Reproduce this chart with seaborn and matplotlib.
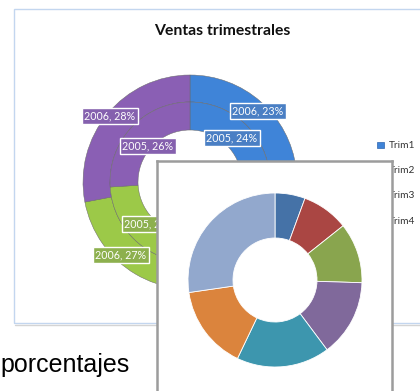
import numpy as np
import matplotlib
matplotlib.use("Agg")
import matplotlib.pyplot as plt
from matplotlib.patches import Rectangle
import seaborn as sns

# ---- data -------------------------------------------------------------
trimestres = ["Trim1", "Trim2", "Trim3", "Trim4"]
anios = ["2005", "2006"]
ventas_2005 = [24, 24, 26, 26]
ventas_2006 = [23, 22, 27, 28]

# second donut: share of each segment (%)
porcentajes = [5.6, 8.7, 11.2, 14.3, 17.3, 15.6, 27.3]

titulo = "Ventas trimestrales"
pie_texto = "porcentajes"

# ---- styling ----------------------------------------------------------
sns.set_theme(style="white")
plt.rcParams["font.family"] = ["Lato", "DejaVu Sans"]

col_trim = ["#3F84D8", "#D9534F", "#9CC948", "#8A5FB4"]
col_edge = ["#2F66B0", "#A83C38", "#7FA635", "#6A4494"]
col_lbl = ["#4A7FC4", "#C84A46", "#8DB04E", "#8560AE"]
col_dona2 = ["#4572A7", "#AA4643", "#89A54E", "#80699B",
             "#3D96AE", "#DB843D", "#92A8CD"]

W, H = 420, 391
fig = plt.figure(figsize=(W / 100, H / 100), dpi=100)
fig.patch.set_facecolor("white")

# base layer in pixel units (y measured upward)
ax = fig.add_axes([0, 0, 1, 1])
ax.set_axis_off()

def py(y):
    return H - y

# chart frame
ax.add_patch(Rectangle((14, py(323)), 440, 314, fill=False,
                       ec="#C3D6EF", lw=1.0, zorder=1))
ax.plot([15, 440], [py(324.5), py(324.5)], color="#D4D4D4", lw=1.0, zorder=1)

ax.text(222, py(31), titulo, ha="center", va="center",
        fontsize=11.3, fontweight="bold", color="#111111")

# legend
for i, (t, c) in enumerate(zip(trimestres, col_trim)):
    yy = py(145 + 25.5 * i)
    ax.add_patch(Rectangle((377, yy - 3.2), 6.5, 6.5, fc=c, ec=col_edge[i],
                           lw=0.5, zorder=2))
    ax.text(389, yy, t, ha="left", va="center", fontsize=7.3,
            color="#333333")

# double donut
cx, cy = 190, py(182)
rings = [(ventas_2006, 107, 27), (ventas_2005, 80, 28)]
for vals, r, w in rings:
    ax.pie(vals, colors=col_trim, startangle=90, counterclock=False,
           radius=r, center=(cx, cy), frame=True,
           wedgeprops=dict(width=w, edgecolor="#6a6a6a", linewidth=0.35))

# data labels (pixel centres)
lbl_pos = {
    "2006": [(258, 111), (268, 230), (121, 255), (110, 116)],
    "2005": [(232, 138), (232, 205), (150, 224), (148, 146)],
}
for anio, vals in zip(anios, [ventas_2005, ventas_2006]):
    for i, v in enumerate(vals):
        x, y = lbl_pos[anio][i]
        ax.text(x, py(y), f"{anio}, {v}%", ha="center", va="center",
                fontsize=7.7, color="white", zorder=5,
                bbox=dict(boxstyle="square,pad=0.2", fc=col_lbl[i],
                          ec="white", lw=1.0))

ax.text(0, py(372), pie_texto, ha="left", va="baseline", fontsize=18,
        color="black", family=["Liberation Sans", "DejaVu Sans"])

ax.set_aspect("auto")
ax.set_xlim(0, W)
ax.set_ylim(0, H)

# ---- overlaid panel with single donut ---------------------------------
x0, x1, ytop = 157, 391.5, 161
bot = -0.05
ov = fig.add_axes([x0 / W, bot, (x1 - x0) / W, (1 - ytop / H) - bot])
ov.set_zorder(5)
ov.set_facecolor("white")
ov.pie(porcentajes, colors=col_dona2, startangle=90, counterclock=False,
       radius=87, center=(275, py(280)), frame=True,
       wedgeprops=dict(width=45, edgecolor="white", linewidth=0.6))
ov.set_aspect("auto")
ov.set_xlim(x0, x1)
ov.set_ylim(bot * H, H - ytop)
ov.set_xticks([])
ov.set_yticks([])
for s in ["left", "right", "top"]:
    ov.spines[s].set_visible(True)
    ov.spines[s].set_color("#9C9C9C")
    ov.spines[s].set_linewidth(1.8)
ov.spines["bottom"].set_visible(False)

fig.savefig("out.png", dpi=100, facecolor="white")
